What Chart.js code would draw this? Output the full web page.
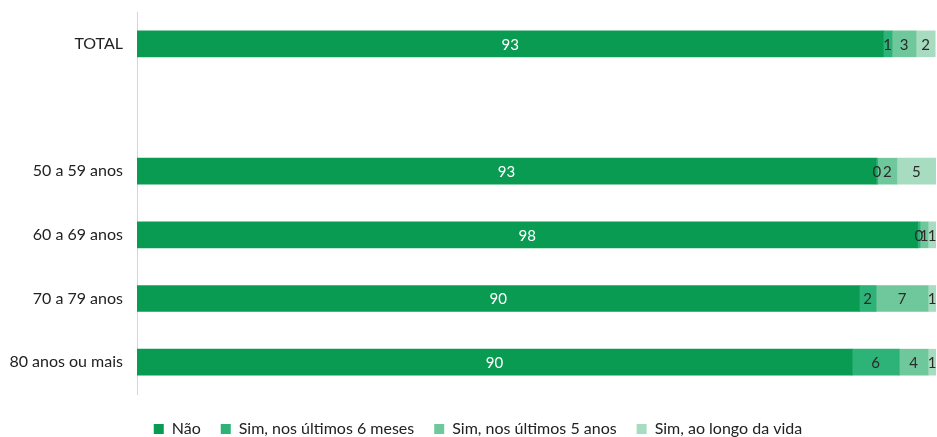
<!DOCTYPE html>
<html>
<head>
<meta charset="utf-8">
<script src="https://cdn.jsdelivr.net/npm/chart.js@4"></script>
<style>
  html, body { margin: 0; padding: 0; background: #fff; }
  #wrap { width: 937px; height: 437px; position: relative; }
</style>
</head>
<body>
<div id="wrap"><canvas id="chart"></canvas></div>
<script>
// categories (blank row between TOTAL and the age groups)
const categories = ["TOTAL", "", "50 a 59 anos", "60 a 69 anos", "70 a 79 anos", "80 anos ou mais"];
const seriesNames = ["Não", "Sim, nos últimos 6 meses", "Sim, nos últimos 5 anos", "Sim, ao longo da vida"];

// values in % (labels show rounded numbers)
const nao = [93.4, null, 92.5, 97.7, 90.4, 89.5];
const sim6meses = [1.1, null, 0.2, 0.3, 2.1, 5.9];
const sim5anos = [3.0, null, 2.4, 1.0, 6.5, 3.6];
const simVida = [2.4, null, 4.9, 1.0, 1.0, 1.0];

const colors = ["#0a9b52", "#2db277", "#6fc89c", "#a8dcc0"];
const FONT = "Lato, 'Open Sans', sans-serif";

// Draws the value in the middle of every segment
const segmentLabels = {
  id: "segmentLabels",
  afterDatasetsDraw(chart) {
    const ctx = chart.ctx;
    ctx.save();
    ctx.font = "15px " + FONT;
    ctx.textAlign = "center";
    ctx.textBaseline = "middle";
    chart.data.datasets.forEach((ds, i) => {
      const meta = chart.getDatasetMeta(i);
      meta.data.forEach((bar, j) => {
        const v = ds.data[j];
        if (v === null || v === undefined) return;
        ctx.fillStyle = i === 0 ? "#ffffff" : "#2a2a2a";
        ctx.fillText(Math.round(v), (bar.x + bar.base) / 2, bar.y + 1);
      });
    });
    ctx.restore();
  },
};

// legend sits a bit right of the canvas centre in the original
const legendShift = {
  id: "legendShift",
  afterLayout(chart) {
    chart.legend.left += 20;
  },
};

const allSeries = [nao, sim6meses, sim5anos, simVida];

new Chart(document.getElementById("chart"), {
  type: "bar",
  data: {
    labels: categories,
    datasets: allSeries.map((d, i) => ({
      label: seriesNames[i],
      data: d,
      backgroundColor: colors[i],
      borderWidth: 0,
      barThickness: 26,
    })),
  },
  options: {
    indexAxis: "y",
    responsive: true,
    maintainAspectRatio: false,
    animation: false,
    layout: { padding: { left: 0, right: 1, top: 12, bottom: -10 } },
    scales: {
      x: {
        stacked: true,
        min: 0,
        max: 100,
        display: true,
        grid: { display: false, drawTicks: false },
        border: { display: false },
        ticks: { display: false },
        afterFit: (s) => { s.height = 7; },
      },
      y: {
        stacked: true,
        grid: { display: false, drawTicks: false },
        border: { display: true, color: "#d6d6d6", width: 1 },
        ticks: { color: "#222", font: { family: FONT, size: 16 }, padding: 14 },
        afterFit: (s) => {
          s.width = 137;
          s.paddingTop = 0;
          s.paddingBottom = 0;
        },
      },
    },
    plugins: {
      legend: {
        position: "bottom",
        labels: {
          boxWidth: 10,
          boxHeight: 10,
          padding: 20,
          color: "#222",
          font: { family: FONT, size: 16 },
        },
      },
      tooltip: { enabled: false },
    },
  },
  plugins: [segmentLabels, legendShift],
});
</script>
</body>
</html>
